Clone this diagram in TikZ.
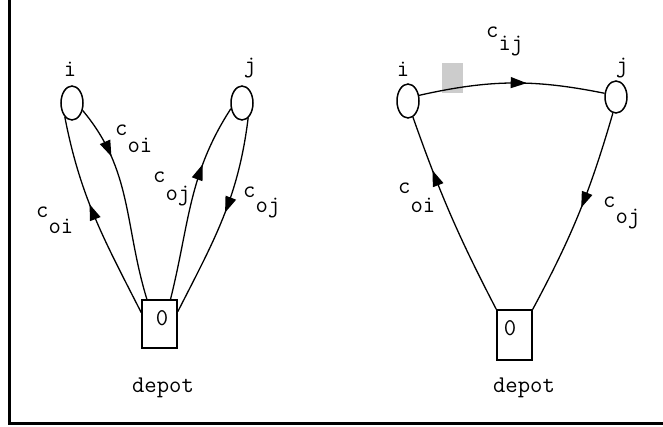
\documentclass[tikz,border=0pt]{standalone}
\usepackage{fontspec}
\usetikzlibrary{arrows.meta,decorations.markings,shapes.geometric}
\tikzset{
  city/.style={draw, ellipse, line width=1.5pt, minimum width=22pt, minimum height=34pt, inner sep=0pt},
  depotbox/.style={draw, rectangle, line width=1.5pt, minimum width=35pt, inner sep=0pt},
  edge/.style={line width=1.3pt},
  midarrow/.style={postaction={decorate}, decoration={markings, mark=at position #1 with {\arrow{Triangle[length=16pt,width=11pt]}}}},
  lab/.style={anchor=base west, inner sep=0pt},
  txt/.style={inner sep=0pt},
  every node/.style={font=\ttfamily\fontsize{24}{27}\selectfont},
}
\begin{document}
\begin{tikzpicture}[x=1pt,y=1pt]
\useasboundingbox (0,0) rectangle (663,-426);
% frame
\draw[line width=3pt] (9.5,0) -- (9.5,-423.5) -- (663,-423.5);
% smudge
\fill[gray!40] (442,-63) rectangle (463,-93);

% left diagram
\node[city] (i1) at (72,-103) {};
\node[city] (j1) at (242,-103) {};
\node[depotbox, minimum height=48pt] (b1) at (159.5,-324) {};
\node[txt] (z1) at (162,-318) {0};
\node[txt] (d1) at (163,-388) {depot};
\node[txt, anchor=base] (ti1) at (70,-76) {i};
\node[txt, anchor=base] (tj1) at (250,-72) {j};

\draw[edge, midarrow=0.57] (b1.148) to[out=117,in=281] (i1.243);
\draw[edge, midarrow=0.27] (i1.325) to[out=-50,in=107] (b1.117);
\draw[edge, midarrow=0.69] (b1.66) to[out=76,in=237] (j1.207);
\draw[edge, midarrow=0.47] (j1.292) to[out=263,in=63] (b1.34);

\node[lab] (l1) at (36,-217) {c\raisebox{-16pt}{oi}};
\node[lab] (l2) at (115,-135) {c\raisebox{-17pt}{oi}};
\node[lab] (l3) at (153,-182) {c\raisebox{-18pt}{oj}};
\node[lab] (l4) at (243,-197) {c\raisebox{-15pt}{oj}};

% right diagram
\node[city] (i2) at (408,-101) {};
\node[city, minimum height=32pt] (j2) at (616,-97) {};
\node[depotbox, minimum height=50pt] (b2) at (514.5,-335) {};
\node[txt] (z2) at (510,-328) {0};
\node[txt] (d2) at (524,-388) {depot};
\node[txt, anchor=base] (ti2) at (403,-76) {i};
\node[txt, anchor=base] (tj2) at (622,-72) {j};

\draw[edge, midarrow=0.58] (i2.27) to[bend left=12] (j2.162);
\draw[edge, midarrow=0.73] (b2.north west) to[bend left=4] (i2.287);
\draw[edge, midarrow=0.47] (j2.259) to[bend left=6] (b2.north east);

\node[lab] (r1) at (486,-37) {c\raisebox{-13pt}{ij}};
\node[lab] (r2) at (398,-193) {c\raisebox{-19pt}{oi}};
\node[lab] (r3) at (603,-207) {c\raisebox{-16pt}{oj}};
\end{tikzpicture}
\end{document}
